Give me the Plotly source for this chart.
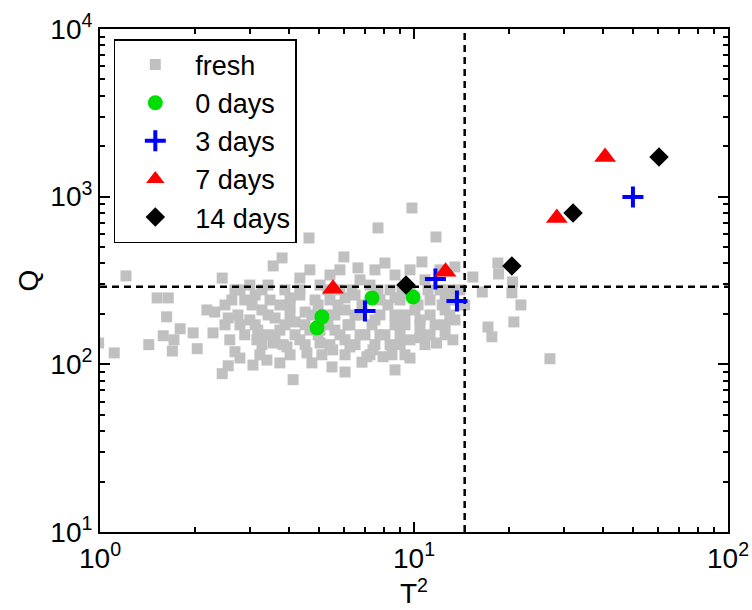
import plotly.graph_objects as go

# ---- data ----
fresh_T2 = [0.99, 1.11, 1.21, 1.52, 1.65, 1.63, 1.80, 1.59, 1.43, 1.72, 1.70, 2.04, 1.98, 2.29,
            2.45, 2.32, 2.19, 2.59, 2.69, 2.79, 2.56, 2.45, 3.07, 3.40, 3.74, 4.12, 3.16, 3.56,
            3.94, 3.56, 3.80, 4.63, 5.98, 7.68, 9.85, 11.75, 6.63, 8.08, 10.6, 13.5, 18.5, 18.6,
            20.6, 20.5, 21.9, 20.8, 17.2, 17.7, 27.1, 16.5, 4.73, 5.48, 6.03, 6.83, 7.97, 8.70,
            9.36, 9.71, 10.45, 11.8, 13.3, 4.56, 5.02, 5.51, 6.25, 7.08, 7.40, 15.4,
            2.89, 3.12, 3.28, 3.48, 3.61, 3.88, 4.03, 4.18, 4.33, 4.50, 4.66, 4.84, 5.02, 5.21,
            5.40, 5.60, 5.81, 6.03, 6.25, 6.49, 6.73, 6.98, 7.24, 7.51, 7.79, 8.08, 8.39, 8.70,
            9.03, 9.36, 9.71, 10.07, 10.45, 10.84, 11.25, 11.67, 12.1, 12.56, 13.0, 13.5, 14.0,
            14.5, 3.00, 3.18, 2.79, 3.35, 3.74, 4.33, 5.02, 6.03, 8.39, 9.71, 11.25, 4.33, 5.40,
            6.73, 8.70, 3.00, 2.79, 2.63, 2.56, 3.43,
            2.69, 3.28, 4.33, 5.32, 6.35, 7.68, 9.16, 11.08, 13.0,
            2.50, 3.05, 3.74, 4.95, 5.73, 6.83, 8.26, 10.3, 12.3, 14.2,
            2.75, 3.43, 4.03, 4.73, 5.60, 6.49, 7.79, 9.36, 11.25, 13.0,
            2.50, 3.12, 3.88, 4.50, 5.32, 6.16, 7.35, 8.70, 10.45, 12.56,
            2.89, 3.61, 4.18, 4.95, 5.81, 6.73, 7.79, 9.03, 10.45, 12.56,
            3.28, 3.83, 4.50, 5.40, 6.49, 7.51, 9.03, 10.84,
            3.23, 4.03, 5.09, 6.03, 7.24, 8.51,
            4.66, 5.81, 7.51, 9.71, 12.1,
            4.03, 6.03, 8.70, 12.56]
fresh_Q = [134, 117, 337, 249, 249, 192, 163, 148, 131, 140, 120, 124, 154, 154,
           327, 205, 211, 140, 119, 109, 98, 88, 99, 106, 102, 81, 140, 134,
           127, 386, 431, 567, 437, 651, 856, 575, 376, 402, 408, 381, 402, 346,
           310, 267, 226, 179, 167, 146, 108, 270, 102, 96.5, 90, 103, 111, 92.6,
           114, 109, 144, 134, 140, 117, 134, 122, 127, 111, 122, 332,
           242, 259, 211, 242, 189, 278, 226, 179, 259, 205, 160, 242, 297, 197,
           242, 160, 278, 211, 172, 259, 197, 150, 297, 184, 242, 150, 278, 197,
           242, 172, 278, 211, 184, 319, 242, 172, 278, 211, 242, 184, 278,
           226, 184, 160, 172, 150, 160, 140, 160, 140, 131, 140, 150, 327, 341,
           319, 341, 297, 278, 242, 189, 297,
           278, 278, 278, 278, 278, 278, 278, 278, 278,
           226, 226, 226, 226, 226, 226, 226, 226, 226, 226,
           197, 197, 197, 197, 197, 197, 197, 197, 197, 197,
           172, 172, 172, 172, 172, 172, 172, 172, 172, 172,
           150, 150, 150, 150, 150, 150, 150, 150, 150, 150,
           131, 131, 131, 131, 131, 131, 131, 131,
           114, 114, 114, 114, 114, 114,
           366, 366, 366, 366, 366,
           249, 249, 249, 249]

d0_T2 = [4.91, 5.09, 7.35, 9.93]
d0_Q = [165, 192, 249, 252]
d3_T2 = [6.98, 11.7, 13.7, 49.8]
d3_Q = [208, 323, 239, 995]
d7_T2 = [5.52, 12.6, 28.5, 40.6]
d7_Q = [282, 356, 746, 1725]
d14_T2 = [9.43, 20.5, 32.1, 60.3]
d14_Q = [297, 386, 800, 1725]

T2_threshold = 14.5
Q_threshold = 290
x_range = [1, 100]
y_range = [10, 10000]

x_tickvals = [1, 10, 100]
x_ticktext = ["10<sup>0</sup>", "10<sup>1</sup>", "10<sup>2</sup>"]
y_tickvals = [10, 100, 1000, 10000]
y_ticktext = ["10<sup>1</sup>", "10<sup>2</sup>", "10<sup>3</sup>", "10<sup>4</sup>"]

FONT = "Liberation Sans, Arial, sans-serif"

fig = go.Figure()
fig.add_trace(go.Scatter(x=fresh_T2, y=fresh_Q, mode="markers", name="fresh",
                         marker=dict(symbol="square", size=11, color="#c0c0c0")))
fig.add_trace(go.Scatter(x=[T2_threshold, T2_threshold], y=y_range, mode="lines",
                         line=dict(color="black", width=2.5, dash="7px,5px"), showlegend=False,
                         hoverinfo="skip"))
fig.add_trace(go.Scatter(x=x_range, y=[Q_threshold, Q_threshold], mode="lines",
                         line=dict(color="black", width=2.5, dash="7px,5px"), showlegend=False,
                         hoverinfo="skip"))
fig.add_trace(go.Scatter(x=d0_T2, y=d0_Q, mode="markers", name="0 days",
                         marker=dict(symbol="circle", size=15, color="#00dd00")))
fig.add_trace(go.Scatter(x=d3_T2, y=d3_Q, mode="markers", name="3 days",
                         marker=dict(symbol="cross-thin", size=15,
                                     line=dict(color="#0000ff", width=4), color="#0000ff")))
fig.add_trace(go.Scatter(x=d7_T2, y=d7_Q, mode="markers", name="7 days",
                         marker=dict(symbol="triangle-up", size=19, color="#ff0000")))
fig.add_trace(go.Scatter(x=d14_T2, y=d14_Q, mode="markers", name="14 days",
                         marker=dict(symbol="diamond", size=15, color="#000000")))

axis_common = dict(type="log", showline=True, linecolor="black", linewidth=2, mirror="allticks",
                   ticks="inside", ticklen=10, tickwidth=1.5, tickcolor="black",
                   showgrid=False, zeroline=False, automargin=False,
                   tickfont=dict(family=FONT, size=28, color="black"),
                   minor=dict(ticks="inside", ticklen=5, tickwidth=1.5, tickcolor="black",
                              dtick="D1", showgrid=False))

fig.update_xaxes(range=[0, 2], tickvals=x_tickvals, ticktext=x_ticktext,
                 title=dict(text="T<sup>2</sup>", font=dict(family=FONT, size=28, color="black"),
                            standoff=4),
                 **axis_common)
fig.update_yaxes(range=[1, 4], tickvals=y_tickvals, ticktext=y_ticktext,
                 title=dict(text="Q", font=dict(family=FONT, size=28, color="black"), standoff=4),
                 **axis_common)

fig.update_layout(
    width=752, height=610,
    margin=dict(l=100, r=24, t=29, b=78),
    paper_bgcolor="white", plot_bgcolor="white",
    showlegend=True,
    legend=dict(x=0.022, y=0.98, xanchor="left", yanchor="top",
                bgcolor="white", bordercolor="black", borderwidth=1.5,
                font=dict(family=FONT, size=27, color="black"),
                itemwidth=70, tracegroupgap=0),
)

fig.write_html("out.html")
